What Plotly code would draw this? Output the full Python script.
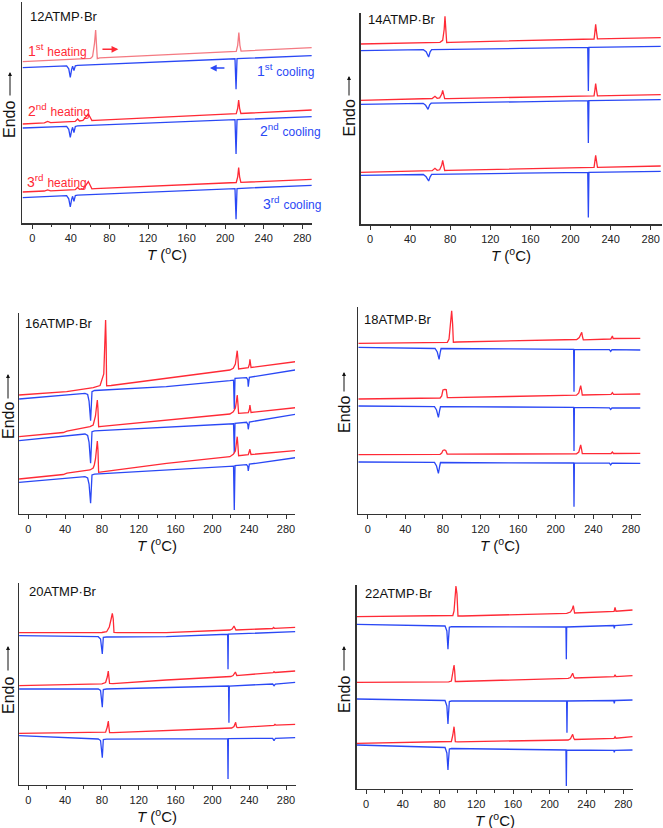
import plotly.graph_objects as go

# ---------------- DATA (T in degC, heat flow in arbitrary units) ----------------
# Panel 12ATMP·Br
T12_h1 = [-10, 55, 60.5, 62.5, 64.5, 65.7, 66.6, 67.4, 70, 150, 211.5, 213.0, 214.2, 215.3, 216.5, 290]
Y12_h1 = [161.7, 164.7, 165.0, 166.8, 180, 193.3, 180, 164.6, 165.4, 169.2, 172.0, 178, 190.7, 178, 172.2, 175.7]
T12_c1 = [-10, 35.6, 37.8, 39.4, 40.8, 41.8, 43.2, 44.6, 47, 150, 210.2, 211.3, 212.3, 290]
Y12_c1 = [155.7, 157.5, 154.5, 146, 154, 157, 152.7, 157.5, 158.0, 162.3, 164.5, 134, 164.6, 167.7]
T12_h2 = [-10, 12.5, 15.9, 19, 44.5, 47, 49, 52.5, 55.5, 58.1, 60, 61.8, 65, 150, 211.5, 213.0, 214.0, 215.0, 216.3, 290]
Y12_h2 = [99.3, 100.35, 101.8, 100.7, 101.9, 104.3, 102.3, 102.8, 106.3, 109.3, 106.0, 102.8, 103.0, 106.7, 109.6, 115, 123.3, 115, 109.8, 113.3]
T12_c2 = [-10, 35.6, 37.8, 39.4, 40.8, 41.8, 43.2, 44.6, 47, 150, 210.2, 211.3, 212.3, 290]
Y12_c2 = [95.3, 97.0, 94.0, 86.0, 93.0, 96.0, 90.7, 96.8, 97.5, 101.3, 103.7, 69.3, 103.6, 106.7]
T12_h3 = [-10, 12.5, 15.9, 19, 44.5, 47, 49, 52.5, 55.5, 58.1, 60, 61.8, 65, 150, 211.5, 213.0, 214.0, 215.0, 216.3, 290]
Y12_h3 = [31.3, 32.3, 33.4, 32.5, 33.6, 35.8, 34.0, 34.4, 38.0, 41.7, 38.0, 34.5, 34.6, 38.3, 40.8, 46.5, 55.7, 46.5, 40.9, 44.0]
T12_c3 = [-10, 35.6, 37.8, 39.4, 40.8, 41.8, 43.2, 44.6, 47, 150, 210.2, 211.3, 212.3, 290]
Y12_c3 = [25.7, 27.6, 24.5, 16.3, 24, 27, 22.0, 27.8, 28.2, 32.3, 34.7, 4.0, 34.8, 38.0]

# Panel 14ATMP·Br
T14_h1 = [-10, 69.8, 72.5, 74, 74.8, 75.8, 76.5, 80, 150, 205, 209.5, 223.5, 224.3, 225.1, 226, 226.9, 290]
Y14_h1 = [180.3, 182.0, 184, 195, 208, 195, 181.8, 182.0, 183.5, 184.7, 185.3, 185.3, 192, 200, 192, 185.4, 186.7]
T14_c1 = [-10, 53.2, 56, 58.5, 60, 61.5, 150, 217.2, 217.8, 218.4, 290]
Y14_c1 = [173.7, 174.6, 172.5, 167.3, 172.5, 174.7, 175.9, 176.9, 133.3, 176.9, 178]
T14_h2 = [-10, 55, 62, 64.8, 67, 69.5, 71.5, 72.5, 73.5, 74.5, 78, 150, 223.5, 224.3, 225.1, 226, 226.9, 290]
Y14_h2 = [124, 125.2, 125.8, 128, 126, 126.5, 130, 134, 130, 125.6, 125.7, 127.0, 128.4, 134, 140.7, 134, 128.5, 129.7]
T14_c2 = [-10, 53, 55.5, 57.9, 59.5, 61, 150, 217.2, 217.8, 218.4, 290]
Y14_c2 = [120, 121.0, 119, 115, 119.5, 121.1, 122.5, 123.6, 81.3, 123.6, 124.7]
T14_h3 = [-10, 55, 62, 64.8, 67, 69.5, 71.5, 72.5, 73.5, 74.5, 78, 150, 223.5, 224.3, 225.1, 226, 226.9, 290]
Y14_h3 = [52, 53.4, 53.6, 56, 54, 54.5, 59, 64, 59, 53.8, 53.9, 55.4, 56.9, 63, 69, 63, 57, 58.3]
T14_c3 = [-10, 53.2, 56, 58.5, 60, 61.5, 150, 217.2, 217.8, 218.4, 290]
Y14_c3 = [49, 49.8, 47.5, 43.3, 47.5, 50.0, 51.1, 52.0, 6.7, 52.0, 53]

# Panel 16ATMP·Br
T16_h1 = [-10, 41.7, 70.6, 78, 82, 83.2, 84, 84.6, 85.1, 90, 150.3, 219, 222.7, 225, 226.2, 227, 227.8, 228.5, 239, 240.3, 240.8, 241.3, 242, 290]
Y16_h1 = [119, 122.3, 126.3, 128.5, 140, 170, 194, 170, 128.3, 128.5, 135.7, 144, 145.7, 150, 158, 163.3, 155, 145, 146.3, 150, 154.7, 150, 146.5, 152.3]
T16_c1 = [-10, 61.6, 64.5, 66, 67.7, 68.5, 69.2, 72, 150, 219, 223.0, 223.8, 224.6, 237.2, 238.5, 239, 239.6, 240.2, 290]
Y16_c1 = [115, 120.7, 119.5, 113, 93.3, 108, 122.3, 123.5, 127.3, 133.3, 133.8, 105, 135.7, 136.3, 134, 127.3, 134, 136.7, 144]
T16_h2 = [-10, 38, 42, 67, 70.5, 71.7, 73, 74.2, 75, 75.7, 76.4, 80, 150.3, 219, 222.7, 225, 226.2, 227, 227.8, 228.5, 239, 240.3, 240.8, 241.3, 242, 290]
Y16_h2 = [77.3, 81.5, 82.8, 87.3, 89, 92.3, 98, 108, 114, 105, 87.3, 87.6, 94, 100, 102.3, 106, 113, 119, 110, 100.7, 101.3, 105, 109, 105, 101.5, 106.3]
T16_c2 = [-10, 61.6, 64.5, 66, 67.7, 68.5, 69.2, 72, 150, 219, 223.0, 223.8, 224.6, 237.2, 238.5, 239, 239.6, 240.2, 290]
Y16_c2 = [73.3, 80, 78.5, 72, 50.7, 66, 82.3, 83.2, 87, 89.7, 90.2, 60.7, 90.7, 91.7, 89.5, 84.7, 89.5, 92, 99.7]
T16_h3 = [-10, 38, 42, 67, 70.5, 71.7, 73, 74.2, 75, 75.7, 76.4, 80, 150.3, 219, 222.7, 225, 226.2, 227, 227.8, 228.5, 239, 240.3, 240.8, 241.3, 242, 290]
Y16_h3 = [35, 39.5, 40.8, 44, 46, 49, 55, 66, 73, 64, 41.7, 42.2, 50.7, 57.3, 59.7, 63, 70, 77.3, 68, 58.3, 59.3, 62, 64.7, 62, 59.5, 63.3]
T16_c3 = [-10, 61.6, 64.5, 66, 67.7, 68.5, 69.2, 72, 150, 219, 223.0, 223.8, 224.6, 237.2, 238.5, 239, 239.6, 240.2, 290]
Y16_c3 = [31.7, 37.3, 36, 30, 10.7, 25, 39, 39.8, 43.8, 47.3, 47.8, 4, 48.3, 49.3, 47.5, 43, 47.5, 49.8, 56.3]

# Panel 18ATMP·Br
T18_h1 = [-10, 84.7, 86.5, 88, 89.3, 90.3, 91.1, 95, 150, 218, 222.3, 225, 226.5, 227.6, 228.5, 229.3, 258.5, 259.5, 260.2, 261, 290]
Y18_h1 = [170.7, 171.7, 175, 190, 203.3, 190, 171.8, 172, 173, 174.0, 174.5, 176.5, 180, 181.7, 177, 174.2, 175, 177, 178, 175.5, 175.7]
T18_c1 = [-10, 71.6, 74, 75.9, 77.2, 78.0, 150, 219, 219.4, 219.8, 257, 258.4, 259.8, 290]
Y18_c1 = [166.7, 165.5, 162, 154.7, 162, 165.5, 165.2, 164.7, 122.3, 164.7, 164.3, 162.5, 164.3, 164]
T18_h2 = [-10, 77, 78.7, 80, 82, 83.5, 84.7, 88, 150, 222, 224.5, 225.6, 226.5, 227.4, 228.2, 258.8, 260.2, 261.4, 290]
Y18_h2 = [115, 116, 118, 124, 124.7, 124.5, 116.5, 116.4, 117.5, 118.8, 121, 125, 128.3, 124, 119, 119.6, 121.3, 119.6, 120]
T18_c2 = [-10, 71, 73.2, 75.2, 76.6, 77.4, 150, 219, 219.4, 219.8, 257, 258.4, 259.8, 290]
Y18_c2 = [108, 107.4, 104, 96.7, 104, 107.3, 107, 106.7, 63, 106.7, 106.2, 104.5, 106.2, 106]
T18_h3 = [-10, 77, 78.7, 80, 81.5, 83, 84.5, 88, 150, 222, 224.5, 225.6, 226.5, 227.4, 228.2, 258.8, 260.2, 261.4, 290]
Y18_h3 = [59.3, 59.7, 61, 63.5, 64, 63.5, 59.9, 59.8, 60.0, 60.2, 62, 66, 69, 65, 60.3, 60.5, 62, 60.5, 60.7]
T18_c3 = [-10, 71, 73.2, 75.2, 76.6, 77.4, 150, 219, 219.4, 219.8, 257, 258.4, 259.8, 290]
Y18_c3 = [52, 51.6, 48, 40.7, 48, 51.5, 51.2, 51, 7.3, 51, 50.8, 49.0, 50.8, 50.7]

# Panel 20ATMP·Br
T20_h1 = [-10, 80, 85.1, 88, 90, 91.3, 92.3, 93.1, 97, 150, 219, 221.5, 223.5, 224.5, 225.6, 265.5, 266.5, 267.5, 290]
Y20_h1 = [152.3, 152.5, 153.3, 158, 166, 171.7, 166, 152.5, 152.3, 152.3, 155, 156, 159, 156.5, 155, 156.5, 157.5, 156.7, 157.7]
T20_c1 = [-10, 76, 78.5, 79.6, 80.4, 81.0, 81.5, 85, 150, 216.6, 217, 217.4, 290]
Y20_c1 = [149.3, 148.3, 146, 138, 131, 140, 147.7, 148, 148.3, 150.7, 115.7, 150.8, 153.3]
T20_h2 = [-10, 80, 84, 85.8, 86.9, 87.6, 88.3, 92, 150, 220, 222.5, 225, 226.5, 229, 266, 267, 268, 290]
Y20_h2 = [99.3, 101.2, 102.5, 108, 114, 108, 101.5, 101.3, 105, 108.5, 109.5, 113, 109.5, 109.7, 112.3, 113.3, 112.5, 114]
T20_c2 = [-10, 76, 78.5, 79.6, 80.4, 81.0, 81.5, 85, 150, 217.6, 218, 218.4, 265.5, 267, 268.5, 290]
Y20_c2 = [96, 96, 94.5, 86, 77.7, 88, 95.5, 96, 97.5, 99, 62.3, 99, 101, 99.3, 101, 102.7]
T20_h3 = [-10, 80, 84, 85.8, 86.9, 87.6, 88.3, 92, 150, 221, 223.5, 225.3, 226.3, 227.5, 267, 268, 269, 290]
Y20_h3 = [51.7, 52.2, 52.8, 58, 64, 58, 52.5, 52.4, 54.5, 57.0, 58.5, 62.7, 58, 57.4, 59.7, 60.7, 59.9, 60.7]
T20_c3 = [-10, 60, 76, 78.5, 79.6, 80.4, 81.0, 81.5, 85, 150, 216.6, 217, 217.4, 265.5, 267, 268.5, 290]
Y20_c3 = [49.3, 46.7, 46.0, 44.5, 36, 27.3, 37, 45.5, 45.9, 46.2, 46.3, 6, 46.3, 46.7, 44.3, 46.7, 47.3]

# Panel 22ATMP·Br
T22_h1 = [-10, 90, 94.5, 95.8, 96.8, 97.9, 99.0, 100.1, 105, 150, 218.4, 222.5, 224.5, 225.6, 226.5, 227, 270, 271, 272, 290]
Y22_h1 = [172.3, 173, 173.5, 178, 195, 203, 195, 173, 173, 174.2, 175.7, 177, 180, 183.3, 178, 176, 177.7, 181.7, 177.8, 179]
T22_c1 = [-10, 86, 88, 88.6, 89.2, 89.8, 90.7, 93, 150, 217.6, 218, 218.4, 269.6, 270.2, 270.8, 290]
Y22_c1 = [164.7, 163, 158, 150, 139.7, 150, 161.7, 162.3, 162.2, 162, 129.7, 162, 163.5, 160.7, 163.5, 164.7]
T22_h2 = [-10, 90, 92.9, 94.5, 95.8, 96.5, 97.2, 100, 150, 220, 222.5, 224.9, 226, 227, 270, 271, 272, 290]
Y22_h2 = [106.7, 107.2, 108, 115, 124, 118, 107.5, 107.5, 108.7, 110.7, 111.5, 115.7, 112.5, 111, 112.3, 114.3, 112.4, 113.3]
T22_c2 = [-10, 86, 88, 88.6, 89.2, 89.8, 90.7, 93, 150, 218.3, 218.7, 219.1, 269.6, 270.2, 270.8, 290]
Y22_c2 = [90, 88.5, 83, 75, 65, 75, 87.5, 88, 88.1, 88, 56.3, 88, 88.5, 85.7, 88.5, 89]
T22_h3 = [-10, 90, 92.9, 94.5, 95.8, 96.5, 97.2, 100, 150, 220, 222.5, 224.9, 226, 227, 270, 271, 272, 290]
Y22_h3 = [45.7, 46.8, 47.5, 54, 62.3, 56, 47.3, 47.2, 48.0, 49, 50.2, 54.7, 51, 49.5, 50.7, 52.3, 50.8, 52.3]
T22_c3 = [-10, 60, 86, 88, 88.6, 89.2, 89.8, 90.7, 93, 150, 217.6, 218, 218.4, 269.6, 270.2, 270.8, 290]
Y22_c3 = [44, 42.3, 41.5, 36, 28, 19, 29, 40, 40.5, 40.0, 39, 3, 39, 38.7, 36.7, 38.7, 39]

TICKS = [0, 40, 80, 120, 160, 200, 240, 280]
SAMPLES = ["12ATMP·Br", "14ATMP·Br", "16ATMP·Br", "18ATMP·Br", "20ATMP·Br", "22ATMP·Br"]

# ---------------- LAYOUT GEOMETRY (pixels) ----------------
W, H = 663, 828
RED, RED_LIGHT, BLUE = "#ff2a36", "#f47a82", "#2a48f5"
FONT = "Liberation Sans, Arial, sans-serif"

geo = [
    dict(x0=22.3, x1=311.7, t0=32.3, t280=302.3, yt=2, yb=223.3, lab=(-4.1, 206.7), ex=10, ey=120, a0=97, a1=72),
    dict(x0=360.7, x1=661.7, t0=370.0, t280=650.7, yt=13, yb=224.3, lab=(-4.0, 205), ex=349, ey=118.5, a0=97, a1=76),
    dict(x0=19.0, x1=295.0, t0=28.3, t280=286.0, yt=313, yb=514, lab=(-5.4, 190.7), ex=8, ey=421, a0=400, a1=374),
    dict(x0=358.3, x1=640.7, t0=367.7, t280=631.0, yt=307, yb=514, lab=(-6.4, 195), ex=344, ey=415, a0=393, a1=372),
    dict(x0=19.0, x1=295.7, t0=28.3, t280=286.0, yt=583, yb=785, lab=(-1.8, 193.3), ex=8, ey=696, a0=672, a1=646),
    dict(x0=356.7, x1=633.3, t0=366.0, t280=623.3, yt=585, yb=789, lab=(-2.9, 196), ex=344, ey=695, a0=672, a1=646),
]

curves = [
    [(T12_h1, Y12_h1, RED_LIGHT), (T12_c1, Y12_c1, BLUE), (T12_h2, Y12_h2, RED), (T12_c2, Y12_c2, BLUE), (T12_h3, Y12_h3, RED), (T12_c3, Y12_c3, BLUE)],
    [(T14_h1, Y14_h1, RED), (T14_c1, Y14_c1, BLUE), (T14_h2, Y14_h2, RED), (T14_c2, Y14_c2, BLUE), (T14_h3, Y14_h3, RED), (T14_c3, Y14_c3, BLUE)],
    [(T16_h1, Y16_h1, RED), (T16_c1, Y16_c1, BLUE), (T16_h2, Y16_h2, RED), (T16_c2, Y16_c2, BLUE), (T16_h3, Y16_h3, RED), (T16_c3, Y16_c3, BLUE)],
    [(T18_h1, Y18_h1, RED), (T18_c1, Y18_c1, BLUE), (T18_h2, Y18_h2, RED), (T18_c2, Y18_c2, BLUE), (T18_h3, Y18_h3, RED), (T18_c3, Y18_c3, BLUE)],
    [(T20_h1, Y20_h1, RED), (T20_c1, Y20_c1, BLUE), (T20_h2, Y20_h2, RED), (T20_c2, Y20_c2, BLUE), (T20_h3, Y20_h3, RED), (T20_c3, Y20_c3, BLUE)],
    [(T22_h1, Y22_h1, RED), (T22_c1, Y22_c1, BLUE), (T22_h2, Y22_h2, RED), (T22_c2, Y22_c2, BLUE), (T22_h3, Y22_h3, RED), (T22_c3, Y22_c3, BLUE)],
]

fig = go.Figure()
layout = dict(width=W, height=H, margin=dict(l=0, r=0, t=0, b=0), showlegend=False,
              plot_bgcolor="white", paper_bgcolor="white")
annotations = []

def px_x(p):
    return p / W

def px_y(p):
    return 1 - p / H

for i, g in enumerate(geo):
    n = "" if i == 0 else str(i + 1)
    xa, ya = "x" + n, "y" + n
    scale = (g["t280"] - g["t0"]) / 280.0
    xr = [(g["x0"] - g["t0"]) / scale, (g["x1"] - g["t0"]) / scale]
    for T, Y, col in curves[i]:
        fig.add_trace(go.Scatter(x=T, y=Y, mode="lines", line=dict(color=col, width=1.3),
                                 xaxis=xa, yaxis=ya, hoverinfo="skip"))
    layout["xaxis" + n] = dict(domain=[px_x(g["x0"]), px_x(g["x1"])], range=xr, anchor=ya,
                               showline=True, linecolor="#333", linewidth=1.3, showgrid=False, zeroline=False,
                               tickmode="array", tickvals=TICKS, ticks="outside", ticklen=4, tickwidth=1,
                               tickcolor="#333", tickfont=dict(family=FONT, size=11, color="#222"),
                               minor=dict(tickvals=[20, 60, 100, 140, 180, 220, 260], ticks="outside",
                                          ticklen=2.5, tickwidth=1, tickcolor="#333", showgrid=False))
    layout["yaxis" + n] = dict(domain=[px_y(g["yb"]), px_y(g["yt"])], range=[0, g["yb"] - g["yt"]],
                               anchor=xa, showline=True, linecolor="#333", linewidth=1.3, showgrid=False,
                               zeroline=False, showticklabels=False, ticks="")
    annotations.append(dict(x=g["lab"][0], y=g["lab"][1], xref=xa, yref=ya, text=SAMPLES[i],
                            showarrow=False, xanchor="left", yanchor="middle",
                            font=dict(family=FONT, size=13, color="#111")))
    annotations.append(dict(x=px_x((g["x0"] + g["x1"]) / 2), y=px_y(g["yb"] + 30), xref="paper", yref="paper",
                            text="<i>T</i> (<sup>o</sup>C)", showarrow=False, xanchor="center", yanchor="middle",
                            font=dict(family=FONT, size=15, color="#111")))
    annotations.append(dict(x=px_x(g["ex"]), y=px_y(g["ey"]), xref="paper", yref="paper", text="Endo",
                            textangle=-90, showarrow=False, xanchor="center", yanchor="middle",
                            font=dict(family=FONT, size=16, color="#111")))
    annotations.append(dict(x=px_x(g["ex"]), y=px_y(g["a1"]), ax=0, ay=g["a0"] - g["a1"],
                            xref="paper", yref="paper", axref="pixel", ayref="pixel", text="",
                            showarrow=True, arrowhead=2, arrowsize=0.8, arrowwidth=1, arrowcolor="#111"))

LABELS = [("1<sup>st</sup> <span style='font-size:12px'>heating</span>", -6.6, 173.3, RED),
          ("1<sup>st</sup> <span style='font-size:12px'>cooling</span>", 230.9, 153.3, BLUE),
          ("2<sup>nd</sup> <span style='font-size:12px'>heating</span>", -6.6, 113.3, RED),
          ("2<sup>nd</sup> <span style='font-size:12px'>cooling</span>", 233.7, 93.3, BLUE),
          ("3<sup>rd</sup> <span style='font-size:12px'>heating</span>", -7.6, 42.3, RED),
          ("3<sup>rd</sup> <span style='font-size:12px'>cooling</span>", 237.1, 20.0, BLUE)]
for txt, tx, ty, col in LABELS:
    annotations.append(dict(x=tx, y=ty, xref="x", yref="y", text=txt, showarrow=False, xanchor="left",
                            yanchor="middle", font=dict(family=FONT, size=14, color=col)))
annotations.append(dict(x=89.2, y=174, ax=71.2, ay=174, xref="x", yref="y", axref="x", ayref="y", text="",
                        showarrow=True, arrowhead=2, arrowsize=0.9, arrowwidth=1.5, arrowcolor=RED))
annotations.append(dict(x=184.2, y=155.3, ax=200.8, ay=155.3, xref="x", yref="y", axref="x", ayref="y", text="",
                        showarrow=True, arrowhead=2, arrowsize=0.9, arrowwidth=1.5, arrowcolor=BLUE))

layout["annotations"] = annotations
fig.update_layout(**layout)
fig.write_html("out.html", config={"displayModeBar": False, "staticPlot": True})

# remove the default page margin so the figure sits at the window's top-left corner
with open("out.html", "r", encoding="utf-8") as f:
    html = f.read()
html = html.replace("<head>", "<head><style>html,body{margin:0;padding:0;overflow:hidden;}</style>", 1)
with open("out.html", "w", encoding="utf-8") as f:
    f.write(html)
